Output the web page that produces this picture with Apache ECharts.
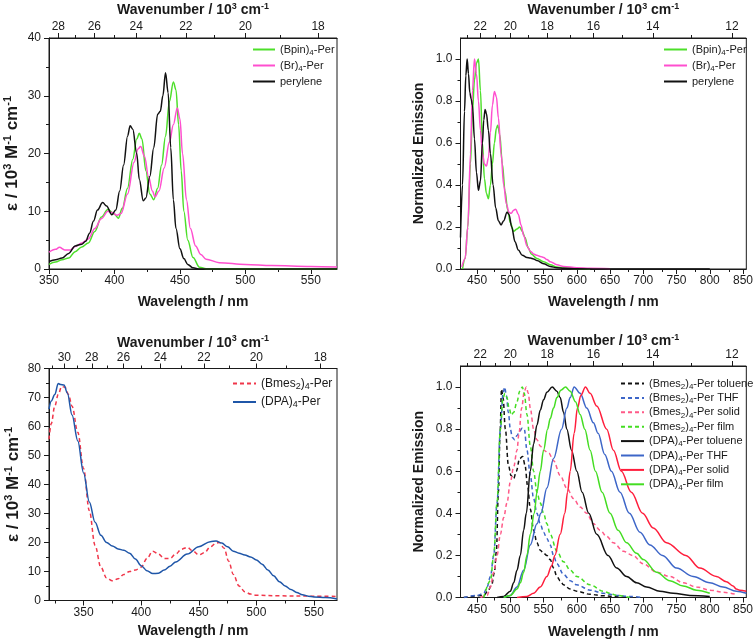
<!DOCTYPE html>
<html><head><meta charset="utf-8">
<script src="https://cdn.jsdelivr.net/npm/echarts@6/dist/echarts.min.js"></script>
<style>html,body{margin:0;padding:0;background:#fff}#c{width:756px;height:642px}</style>
</head><body><div id="c"></div>
<script>
// ---------- DATA (wavelength nm, value) ----------
// Panel 1: absorption (ε / 10^3 M^-1 cm^-1)
const absBpin = [[350,0.8],[355,1.2],[360,1.6],[365,1.9],[370,3],[375,3.8],[380,4.5],[385,6.5],[390,9],[395,10.3],[400,9.5],[403,8.8],[406,10.5],[410,14],[414,19],[417,22.5],[419,23.5],[421,22.5],[424,17],[427,13],[430,12],[433,14],[436,18],[439,23],[442,29],[445,32.4],[447,31],[449,25],[451,17],[453,10],[456,5],[460,2],[465,0.3],[470,0.05],[570,0]];
const absBr = [[350,2.9],[355,3.4],[358,3.75],[362,3.3],[366,3.3],[370,3.9],[375,4.5],[380,5.2],[385,7],[390,8.7],[395,10],[398,9.8],[402,9.3],[405,9.6],[410,13],[415,18.5],[418,20.8],[420,21.2],[423,19.5],[426,16],[429,13.5],[431,12.5],[434,13.5],[438,17.5],[442,22],[445,25],[448,27.9],[450,26],[452,20],[455,12],[458,7],[462,4],[466,2.5],[470,1.7],[480,1.1],[500,0.8],[520,0.6],[550,0.45],[570,0.35]];
const absPerylene = [[350,1.3],[355,1.6],[360,1.9],[365,2.7],[370,4.0],[375,4.3],[378,4.8],[381,6.2],[384,8.3],[387,10.2],[391,11.5],[394,10.9],[398,9.4],[401,10.2],[404,13.5],[407,18],[410,23],[412,24.8],[414,24.2],[417,20],[419,15.5],[422,11.8],[424,12.3],[427,16],[430,21],[433,26.8],[435,27.3],[437,30],[439,34],[441,30.5],[443,21],[445,12],[447,7],[450,3.5],[453,1.8],[456,0.8],[460,0.2],[465,0],[570,0]];
// Panel 2: normalized emission
const emBpin = [[428,0],[432,0.05],[436,0.2],[440,0.5],[443,0.75],[446,0.9],[449,0.98],[452,1.0],[455,0.85],[458,0.6],[461,0.43],[464,0.36],[467,0.335],[470,0.4],[473,0.5],[476,0.6],[479,0.67],[481,0.685],[484,0.64],[488,0.5],[492,0.37],[496,0.28],[500,0.22],[505,0.18],[510,0.19],[514,0.2],[518,0.18],[522,0.15],[527,0.1],[532,0.07],[540,0.05],[550,0.035],[560,0.02],[570,0.01],[580,0.005],[600,0.002],[620,0]];
const emBr = [[427,0.01],[432,0.05],[436,0.2],[440,0.55],[443,0.85],[446,1.0],[449,0.93],[452,0.8],[455,0.66],[458,0.55],[461,0.5],[464,0.49],[467,0.53],[470,0.65],[473,0.78],[476,0.845],[479,0.82],[482,0.72],[486,0.55],[490,0.4],[494,0.31],[498,0.27],[501,0.265],[505,0.28],[508,0.285],[512,0.26],[516,0.21],[520,0.16],[525,0.11],[530,0.085],[535,0.072],[540,0.065],[545,0.06],[550,0.055],[555,0.045],[560,0.035],[570,0.02],[580,0.012],[600,0.006],[620,0.003],[650,0.001]];
const emPerylene = [[425,0.15],[428,0.4],[431,0.75],[433,0.92],[435,1.0],[437,0.93],[439,0.84],[441,0.81],[443,0.78],[446,0.62],[449,0.46],[452,0.375],[455,0.42],[458,0.6],[460,0.71],[462,0.76],[464,0.74],[467,0.66],[470,0.55],[474,0.4],[478,0.29],[482,0.23],[486,0.21],[490,0.23],[495,0.27],[498,0.26],[502,0.2],[507,0.13],[512,0.09],[518,0.065],[525,0.055],[530,0.052],[535,0.048],[540,0.04],[550,0.025],[560,0.012],[570,0.006],[580,0.003],[600,0.001],[650,0],[800,0]];
// Panel 3: absorption
const absBmes = [[320,55.6],[322,61],[325,67],[328,71],[331,73.8],[334,73.5],[337,71],[340,67],[345,58],[350,45.5],[355,31],[360,19],[365,11.5],[370,7.8],[375,6.8],[380,7.5],[385,9],[390,10],[395,10.5],[400,11.5],[405,14.5],[410,17],[415,16],[420,14.5],[425,14.5],[430,16],[435,17.7],[440,18.3],[445,17],[450,15.7],[455,16.5],[460,18.5],[465,19.8],[468,20],[472,18],[476,13.5],[480,9],[485,5],[490,3],[495,2.2],[500,1.8],[520,1.6],[550,1.5],[570,1.4]];
const absDPA = [[320,66],[322,68.8],[325,71],[328,74.8],[330,74.5],[333,74.3],[336,71.5],[340,64],[345,55],[350,44],[355,34],[360,27],[365,22.5],[370,20],[375,18.8],[380,17.8],[385,17.3],[390,16.3],[395,14.3],[400,12],[405,10.3],[410,9.3],[415,9.4],[420,10.5],[425,11.8],[430,13.3],[440,16],[450,18.5],[460,20.3],[465,20.5],[470,19.8],[475,18.5],[480,17],[485,16.3],[490,15.7],[495,15],[500,14],[505,12.5],[510,10.5],[515,8.5],[520,6.5],[525,5],[530,3.8],[535,2.8],[540,2],[545,1.5],[550,1.2],[560,1.0],[570,0.5]];
// Panel 4: normalized emission
const emBmesTol = [[430,0],[460,0.01],[466,0.03],[472,0.06],[476,0.12],[479,0.22],[482,0.5],[484.5,0.78],[486.7,0.99],[489,0.95],[492.5,0.8],[497,0.63],[501,0.58],[505,0.565],[509,0.6],[514,0.66],[518.5,0.67],[522,0.63],[526,0.53],[530,0.42],[535,0.32],[540,0.26],[545,0.225],[550,0.21],[555,0.2],[560,0.18],[565,0.14],[570,0.1],[575,0.08],[580,0.06],[590,0.04],[600,0.03],[620,0.015],[640,0.008],[660,0.003],[680,0]];
const emBmesTHF = [[430,0],[450,0.01],[460,0.02],[465,0.05],[470,0.1],[475,0.2],[480,0.45],[485,0.8],[489,0.97],[491.5,1.0],[494,0.96],[497,0.88],[500,0.8],[503,0.76],[506.5,0.75],[510,0.77],[514,0.79],[518,0.805],[521,0.8],[525,0.7],[530,0.58],[535,0.47],[540,0.4],[545,0.35],[550,0.31],[555,0.28],[560,0.25],[565,0.2],[570,0.16],[580,0.11],[590,0.08],[600,0.06],[620,0.035],[640,0.02],[660,0.01],[680,0.005],[700,0]];
const emBmesSolid = [[455,0],[465,0.01],[470,0.05],[475,0.12],[480,0.2],[485,0.3],[490,0.38],[495,0.45],[500,0.55],[505,0.62],[510,0.7],[513,0.78],[517,0.9],[521,0.98],[524,1.0],[527,0.97],[530,0.9],[535,0.8],[540,0.75],[545,0.72],[550,0.7],[558,0.685],[565,0.65],[575,0.58],[585,0.52],[595,0.47],[605,0.43],[615,0.4],[625,0.35],[635,0.32],[645,0.29],[655,0.26],[670,0.22],[684,0.2],[700,0.16],[720,0.12],[740,0.1],[760,0.07],[780,0.05],[800,0.035],[820,0.025],[840,0.015]];
const emBmesFilm = [[460,0],[470,0.08],[475,0.2],[480,0.45],[485,0.8],[489,0.95],[492,0.97],[495,0.95],[498,0.9],[501.6,0.867],[505,0.88],[510,0.93],[514,0.98],[518,1.0],[521,0.97],[525,0.87],[530,0.72],[535,0.6],[540,0.5],[545,0.45],[550,0.4],[555,0.35],[560,0.3],[570,0.22],[580,0.17],[590,0.13],[600,0.1],[620,0.06],[640,0.03],[650,0.02],[660,0.01],[680,0]];
const emDPATol = [[480,0],[490,0.005],[500,0.03],[505,0.07],[510,0.13],[515,0.2],[520,0.32],[524,0.4],[530,0.6],[535,0.73],[540,0.82],[545,0.89],[550,0.94],[555,0.975],[563,1.0],[570,0.98],[575,0.95],[580,0.88],[585,0.8],[592,0.7],[600,0.6],[608,0.5],[618,0.4],[630,0.3],[647,0.2],[660,0.14],[675,0.1],[690,0.07],[705,0.05],[725,0.03],[745,0.02],[770,0.01],[800,0.005]];
const emDPATHF = [[490,0],[500,0.01],[510,0.05],[520,0.13],[530,0.25],[540,0.35],[546,0.4],[555,0.52],[565,0.66],[577,0.8],[585,0.9],[590,0.95],[596,1.0],[605,0.97],[615,0.9],[625,0.83],[632,0.78],[642,0.68],[652,0.6],[665,0.5],[679,0.4],[695,0.31],[710,0.25],[729,0.2],[750,0.14],[775,0.1],[800,0.07],[820,0.05],[840,0.03],[855,0.02]];
const emDPASolid = [[510,0],[525,0.005],[535,0.02],[545,0.05],[555,0.1],[562,0.15],[567,0.2],[575,0.3],[582,0.4],[586,0.5],[590,0.6],[596,0.78],[601,0.9],[606,0.96],[613,1.0],[620,0.97],[630,0.91],[645,0.8],[655,0.7],[667,0.6],[682,0.5],[699,0.4],[715,0.33],[735,0.26],[764,0.2],[785,0.14],[810,0.1],[825,0.075],[835,0.055],[840,0.04],[845,0.035],[855,0.03]];
const emDPAFilm = [[490,0],[500,0.01],[510,0.04],[515,0.07],[520,0.12],[525,0.2],[530,0.3],[536,0.4],[540,0.5],[545,0.6],[550,0.7],[556,0.8],[560,0.85],[565,0.9],[570,0.95],[576,0.985],[583,1.0],[590,0.98],[598,0.93],[605,0.87],[612,0.8],[620,0.7],[628,0.6],[638,0.5],[650,0.4],[662,0.32],[675,0.26],[690,0.21],[700,0.18],[720,0.12],[740,0.08],[760,0.055],[780,0.035],[800,0.02]];

// ---------- tick labels ----------
const xTicks1 = [350,400,450,500,550];
const xTicks2 = [450,500,550,600,650,700,750,800,850];
const xTicks3 = [350,400,450,500,550];
const xTicks4 = [450,500,550,600,650,700,750,800,850];
const yTicksAbs1 = [0,10,20,30,40];
const yTicksAbs3 = [0,10,20,30,40,50,60,70,80];
const yTicksEm = [0,0.2,0.4,0.6,0.8,1.0];
const wnTicks1 = [28,26,24,22,20,18];
const wnTicks2 = [22,20,18,16,14,12];
const wnTicks3 = [30,28,26,24,22,20,18];
const wnTicks4 = [22,20,18,16,14,12];

// ---------- helpers ----------
const FONT = "'Liberation Sans', Arial, Helvetica, sans-serif";
const INK = '#1a1a1a';
const nm = w => 1e4 / w;
function midpoints(arr) { const r=[]; for (let i=0;i<arr.length-1;i++) r.push((arr[i]+arr[i+1])/2); return r; }
function inRange(vals, a, b) { return vals.filter(v => v > a + 1e-6 && v < b - 1e-6); }

const P = [
  {grid:{left:49,top:38,width:288,height:231}, xMin:350,xMax:570, xT:xTicks1, yMin:0,yMax:40, yT:yTicksAbs1, yFmt:v=>String(v), wn:wnTicks1, yName:'abs', yGap:27, xGap:25, tGap:19},
  {grid:{left:460.5,top:38,width:288.5,height:231}, xMin:425,xMax:855, xT:xTicks2, yMin:0,yMax:1.1, yT:yTicksEm, yFmt:v=>v.toFixed(1), wn:wnTicks2, yName:'em', yGap:33, xGap:25, tGap:19},
  {grid:{left:49,top:368.5,width:288,height:232}, xMin:320,xMax:570, xT:xTicks3, yMin:0,yMax:80, yT:yTicksAbs3, yFmt:v=>String(v), wn:wnTicks3, yName:'abs', yGap:26, xGap:22, tGap:17},
  {grid:{left:460.5,top:366,width:288.5,height:231.5}, xMin:425,xMax:855, xT:xTicks4, yMin:0,yMax:1.1, yT:yTicksEm, yFmt:v=>v.toFixed(1), wn:wnTicks4, yName:'em', yGap:33, xGap:26, tGap:15}
];

const titleRich = {
  b:{fontSize:14,fontWeight:'bold',fontFamily:FONT,color:INK,lineHeight:17},
  p:{fontSize:9,fontWeight:'bold',fontFamily:FONT,color:INK,verticalAlign:'top',lineHeight:10},
  B:{fontSize:17,fontWeight:'bold',fontFamily:FONT,color:INK,lineHeight:20},
  Q:{fontSize:11,fontWeight:'bold',fontFamily:FONT,color:INK,verticalAlign:'top',lineHeight:12}
};
const NAME_WL = '{b|Wavelength / nm}';
const NAME_WN = '{b|Wavenumber / 10}{p|3}{b| cm}{p|-1}';
const NAME_ABS = '{B|ε / 10}{Q|3}{B| M}{Q|-1}{B| cm}{Q|-1}';
const NAME_EM = '{b|Normalized Emission}';

const grids = [], xAxes = [], yAxes = [];
const lineAx = {show:true, lineStyle:{color:INK,width:1}};
const lbl = {color:INK, fontSize:12, fontFamily:FONT};
P.forEach((p,i) => {
  grids.push(Object.assign({show:true, borderColor:INK, borderWidth:1, backgroundColor:'transparent'}, p.grid));
});
P.forEach((p,i) => {
  grids.push(Object.assign({show:false}, p.grid));
});
// main bottom x axes 0..3
P.forEach((p,i) => xAxes.push({
  type:'value', gridIndex:i, position:'bottom', min:p.xMin, max:p.xMax,
  axisLine:lineAx, splitLine:{show:false},
  axisTick:{show:true, inside:false, length:5, lineStyle:{color:INK}, customValues:p.xT},
  axisLabel:Object.assign({margin:6, customValues:p.xT, formatter:v=>String(Math.round(v))}, lbl),
  name:NAME_WL, nameLocation:'middle', nameGap:p.xGap, nameTextStyle:{rich:titleRich}
}));
// main top x axes 4..7
P.forEach((p,i) => {
  const major = p.wn.map(nm);
  xAxes.push({
    type:'value', gridIndex:i, position:'top', min:p.xMin, max:p.xMax,
    axisLine:lineAx, splitLine:{show:false},
    axisTick:{show:true, inside:false, length:5, lineStyle:{color:INK}, customValues:major},
    axisLabel:Object.assign({margin:5, customValues:major, formatter:v=>String(Math.round(1e4/v))}, lbl),
    name:NAME_WN, nameLocation:'middle', nameGap:p.tGap, nameTextStyle:{rich:titleRich}
  });
});
// minor overlay bottom 8..11
P.forEach((p,i) => xAxes.push({
  type:'value', gridIndex:4+i, position:'bottom', min:p.xMin, max:p.xMax,
  axisLine:{show:false}, splitLine:{show:false}, axisLabel:{show:false},
  axisTick:{show:true, inside:false, length:3, lineStyle:{color:INK}, customValues: inRange(midpoints(p.xT).concat([p.xT[0]-25, p.xT[p.xT.length-1]+25]), p.xMin, p.xMax)}
}));
// minor overlay top 12..15
P.forEach((p,i) => {
  const wnMinor = midpoints(p.wn).concat([p.wn[0]+1, p.wn[p.wn.length-1]-1]).map(nm);
  xAxes.push({
    type:'value', gridIndex:4+i, position:'top', min:p.xMin, max:p.xMax,
    axisLine:{show:false}, splitLine:{show:false}, axisLabel:{show:false},
    axisTick:{show:true, inside:false, length:3, lineStyle:{color:INK}, customValues: inRange(wnMinor, p.xMin, p.xMax)}
  });
});
// y axes main 0..3
P.forEach((p,i) => yAxes.push({
  type:'value', gridIndex:i, position:'left', min:p.yMin, max:p.yMax,
  axisLine:lineAx, splitLine:{show:false},
  axisTick:{show:true, inside:false, length:5, lineStyle:{color:INK}, customValues:p.yT},
  axisLabel:Object.assign({margin:8, customValues:p.yT, formatter:p.yFmt}, lbl),
  name: p.yName==='abs' ? NAME_ABS : NAME_EM, nameLocation:'middle', nameGap:p.yGap, nameTextStyle:{rich:titleRich}
}));
// y minor 4..7
P.forEach((p,i) => yAxes.push({
  type:'value', gridIndex:4+i, position:'left', min:p.yMin, max:p.yMax,
  axisLine:{show:false}, splitLine:{show:false}, axisLabel:{show:false},
  axisTick:{show:true, inside:false, length:3, lineStyle:{color:INK}, customValues: midpoints(p.yT)}
}));

// ---------- series ----------
const C = {green:'#4ddf2a', magenta:'#ff4fcf', black:'#111111', red3:'#f0364a', blue3:'#1f56a8',
           blue4:'#3d66c8', pink4:'#ff5a88', green4:'#44dd22', red4:'#ff1e3c'};
function S(name, data, panel, color, dashed) {
  return {name, type:'line', data, xAxisIndex:panel, yAxisIndex:panel, showSymbol:false, symbol:'none',
    smooth:0.35, smoothMonotone:'x', clip:true, silent:true,
    lineStyle:{color, width:1.5, type: dashed ? [4,3] : 'solid'}, itemStyle:{color, opacity:0}};
}
const series = [
  S('a_bpin', absBpin, 0, C.green), S('a_br', absBr, 0, C.magenta), S('a_per', absPerylene, 0, C.black),
  S('e_bpin', emBpin, 1, C.green), S('e_br', emBr, 1, C.magenta), S('e_per', emPerylene, 1, C.black),
  S('b_bmes', absBmes, 2, C.red3, true), S('b_dpa', absDPA, 2, C.blue3),
  S('f_bt', emBmesTol, 3, C.black, true), S('f_bh', emBmesTHF, 3, C.blue4, true),
  S('f_bs', emBmesSolid, 3, C.pink4, true), S('f_bf', emBmesFilm, 3, C.green4, true),
  S('f_dt', emDPATol, 3, C.black), S('f_dh', emDPATHF, 3, C.blue4),
  S('f_ds', emDPASolid, 3, C.red4), S('f_df', emDPAFilm, 3, C.green4)
];
const LBL = {
  a_bpin:'{n|(Bpin)}{s|4}{n|-Per}', a_br:'{n|(Br)}{s|4}{n|-Per}', a_per:'{n|perylene}',
  e_bpin:'{n|(Bpin)}{s|4}{n|-Per}', e_br:'{n|(Br)}{s|4}{n|-Per}', e_per:'{n|perylene}',
  b_bmes:'{n|(Bmes}{s|2}{n|)}{s|4}{n|-Per}', b_dpa:'{n|(DPA)}{s|4}{n|-Per}',
  f_bt:'{n|(Bmes}{s|2}{n|)}{s|4}{n|-Per toluene}', f_bh:'{n|(Bmes}{s|2}{n|)}{s|4}{n|-Per THF}',
  f_bs:'{n|(Bmes}{s|2}{n|)}{s|4}{n|-Per solid}', f_bf:'{n|(Bmes}{s|2}{n|)}{s|4}{n|-Per film}',
  f_dt:'{n|(DPA)}{s|4}{n|-Per toluene}', f_dh:'{n|(DPA)}{s|4}{n|-Per THF}',
  f_ds:'{n|(DPA)}{s|4}{n|-Per solid}', f_df:'{n|(DPA)}{s|4}{n|-Per film}'
};
function rich(fs, lh) {
  return {n:{fontSize:fs, lineHeight:lh, fontFamily:FONT, color:INK},
          s:{fontSize:fs-3, lineHeight:fs-3, verticalAlign:'bottom', fontFamily:FONT, color:INK}};
}
function L(left, top, names, fs, lh, gap, w) {
  return {left, top, padding:0, orient:'vertical', itemWidth:w, itemHeight:10, itemGap:gap, selectedMode:false,
    itemStyle:{opacity:0},
    data:names, formatter:n=>LBL[n], textStyle:{fontSize:fs, fontFamily:FONT, color:INK, rich:rich(fs,lh)}};
}
const legends = [
  L(252, 44, ['a_bpin','a_br','a_per'], 11, 14, 3.5, 22),
  L(663, 44, ['e_bpin','e_br','e_per'], 11, 14, 3.5, 23),
  L(232, 377.5, ['b_bmes','b_dpa'], 12, 15, 5, 23),
  L(620, 378, ['f_bt','f_bh','f_bs','f_bf','f_dt','f_dh','f_ds','f_df'], 11, 14, 1.9, 23)
];

const chart = echarts.init(document.getElementById('c'), null, {renderer:'canvas'});
chart.setOption({
  animation:false, backgroundColor:'#ffffff',
  textStyle:{fontFamily:FONT, color:INK},
  grid:grids, xAxis:xAxes, yAxis:yAxes, legend:legends, series
});
</script></body></html>
